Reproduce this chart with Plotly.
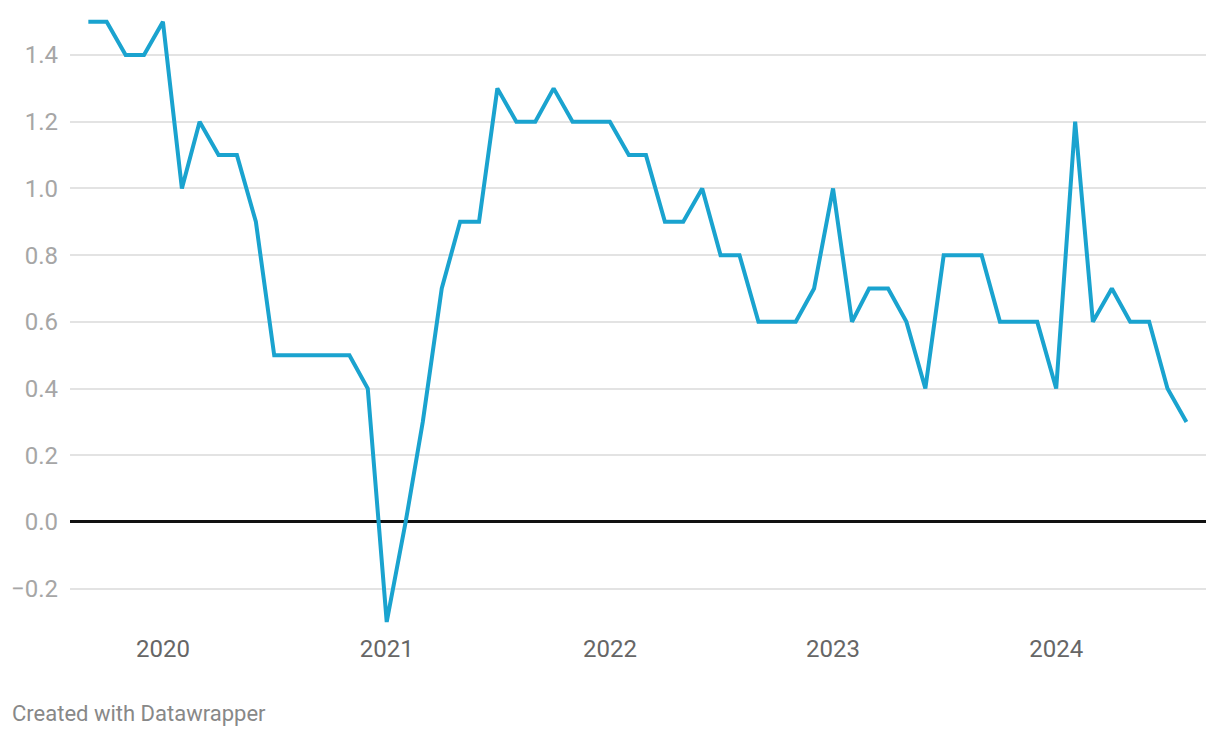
import plotly.graph_objects as go
import pandas as pd

# Monthly values, Sep 2019 - Aug 2024
months = pd.date_range("2019-09-01", "2024-08-01", freq="MS")
values = [
    1.5, 1.5, 1.4, 1.4,                                      # 2019 Sep-Dec
    1.5, 1.0, 1.2, 1.1, 1.1, 0.9, 0.5, 0.5, 0.5, 0.5, 0.5, 0.4,  # 2020
    -0.3, 0.0, 0.3, 0.7, 0.9, 0.9, 1.3, 1.2, 1.2, 1.3, 1.2, 1.2,  # 2021
    1.2, 1.1, 1.1, 0.9, 0.9, 1.0, 0.8, 0.8, 0.6, 0.6, 0.6, 0.7,  # 2022
    1.0, 0.6, 0.7, 0.7, 0.6, 0.4, 0.8, 0.8, 0.8, 0.6, 0.6, 0.6,  # 2023
    0.4, 1.2, 0.6, 0.7, 0.6, 0.6, 0.4, 0.3,                  # 2024 Jan-Aug
]
year_ticks = ["2020-01-01", "2021-01-01", "2022-01-01", "2023-01-01", "2024-01-01"]
year_labels = ["2020", "2021", "2022", "2023", "2024"]
y_ticks = [-0.2, 0.0, 0.2, 0.4, 0.6, 0.8, 1.0, 1.2, 1.4]

fig = go.Figure()
fig.add_trace(go.Scatter(
    x=months,
    y=values,
    mode="lines",
    line=dict(color="#1aa3cf", width=4),
    hoverinfo="x+y",
))

# page body adds 8px margin, so margins are shifted to compensate
fig.update_layout(
    width=1220,
    height=738,
    margin=dict(l=62, r=22, t=2, b=114),
    paper_bgcolor="white",
    plot_bgcolor="white",
    showlegend=False,
    font=dict(family="Roboto", size=24, color="#999999"),
)

fig.update_xaxes(
    range=["2019-08-02", "2024-09-02"],
    tickvals=year_ticks,
    ticktext=year_labels,
    tickfont=dict(color="#666666", size=24),
    showgrid=False,
    zeroline=False,
    showline=False,
    ticks="",
    ticklabelstandoff=0,
)

fig.update_yaxes(
    range=[-0.33, 1.535],
    tickvals=y_ticks,
    ticktext=["\u22120.2" if v < 0 else f"{v:.1f}" for v in y_ticks],
    tickfont=dict(color="#a6a6a6", size=24),
    showgrid=True,
    gridcolor="#e3e3e3",
    gridwidth=1.5,
    zeroline=True,
    zerolinecolor="#111111",
    zerolinewidth=2.5,
    ticks="",
    ticklabelstandoff=11,
)

fig.add_annotation(
    text="Created with Datawrapper",
    xref="paper", yref="paper",
    x=-0.0528, y=-0.1318,
    xanchor="left", yanchor="middle",
    showarrow=False,
    font=dict(family="Roboto", size=22, color="#888888"),
)

fig.write_html("out.html")
